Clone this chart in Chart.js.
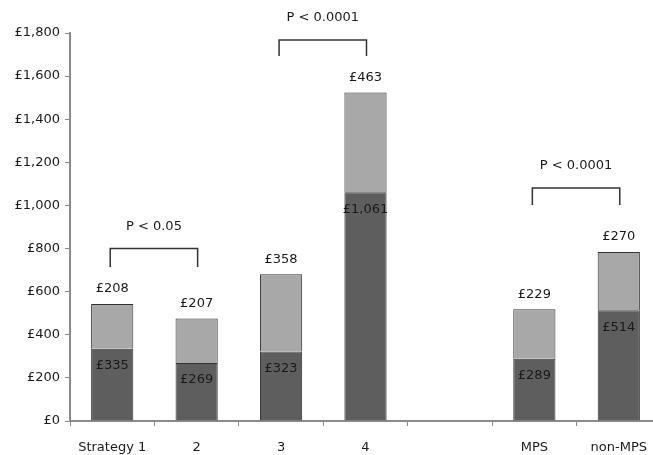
<!DOCTYPE html>
<html lang="en">
<head>
    <meta charset="UTF-8">
    <title>Cost per strategy</title>
    <script src="https://cdn.jsdelivr.net/npm/chart.js"></script>
    <style>
        html, body { margin: 0; padding: 0; background: #fff; overflow: hidden; }
    </style>
</head>
<body>
    <canvas id="costChart" width="661" height="455"></canvas>

    <script>
        // Categories and the two stacked cost parts
        const categories = ['Strategy 1', '2', '3', '4', '', 'MPS', 'non-MPS'];
        const lowerCost = [335, 269, 323, 1061, null, 289, 514];
        const upperCost = [208, 207, 358, 463, null, 229, 270];
        const yMax = 1800;
        const yStep = 200;

        // Significance brackets: from/to category index, bar top value, leg end value
        const bracketFrom = [0, 2, 5];
        const bracketTo = [1, 3, 6];
        const bracketTop = [800, 1767, 1081];
        const bracketLeg = [715, 1693, 1002];
        const bracketText = ['P < 0.05', 'P < 0.0001', 'P < 0.0001'];

        const money = v => '£' + v.toLocaleString('en-GB');
        const FONT = '"DejaVu Sans", sans-serif';

        // Writes the values on the bars and draws the P-value brackets
        const annotate = {
            id: 'annotate',
            afterDatasetsDraw(chart) {
                const ctx = chart.ctx;
                const x = chart.scales.x, y = chart.scales.y;
                ctx.save();
                ctx.font = '13px ' + FONT;
                ctx.fillStyle = '#1a1a1a';
                ctx.textAlign = 'center';
                ctx.textBaseline = 'middle';

                const low = chart.getDatasetMeta(0).data;
                const high = chart.getDatasetMeta(1).data;
                lowerCost.forEach((v, i) => {
                    if (v == null) return;
                    ctx.fillText(money(v), low[i].x, low[i].y + 17);
                });
                upperCost.forEach((v, i) => {
                    if (v == null) return;
                    ctx.fillText(money(v), high[i].x, high[i].y - 15);
                });

                ctx.strokeStyle = '#333';
                ctx.lineWidth = 1.5;
                bracketText.forEach((t, k) => {
                    const x1 = x.getPixelForValue(bracketFrom[k]) - 2;
                    const x2 = x.getPixelForValue(bracketTo[k]) + 1;
                    const yt = y.getPixelForValue(bracketTop[k]);
                    const yl = y.getPixelForValue(bracketLeg[k]);
                    ctx.beginPath();
                    ctx.moveTo(x1, yl);
                    ctx.lineTo(x1, yt);
                    ctx.lineTo(x2, yt);
                    ctx.lineTo(x2, yl);
                    ctx.stroke();
                    ctx.fillText(t, (x1 + x2) / 2, yt - 22);
                });
                ctx.restore();
            }
        };

        const ctx = document.getElementById('costChart').getContext('2d');
        new Chart(ctx, {
            type: 'bar',
            data: {
                labels: categories,
                datasets: [{
                    data: lowerCost,
                    backgroundColor: '#5e5e5e',
                    borderColor: '#333333',
                    borderWidth: 1
                }, {
                    data: upperCost,
                    backgroundColor: '#a8a8a8',
                    borderColor: '#333333',
                    borderWidth: 1
                }]
            },
            options: {
                responsive: false,
                animation: false,
                layout: { padding: { top: 33, right: 0, left: 0, bottom: 0 } },
                datasets: { bar: { categoryPercentage: 0.5, barPercentage: 1 } },
                plugins: { legend: { display: false }, tooltip: { enabled: false } },
                scales: {
                    x: {
                        stacked: true,
                        afterFit: s => { s.height = 34; },
                        border: { color: '#8a8a8a', width: 2 },
                        grid: { offset: true, drawOnChartArea: false, tickLength: 5, color: '#8a8a8a', lineWidth: 1 },
                        ticks: { color: '#1a1a1a', font: { family: FONT, size: 13 }, padding: 14 }
                    },
                    y: {
                        stacked: true,
                        min: 0,
                        max: yMax,
                        afterFit: s => { s.width = 70; },
                        border: { color: '#8a8a8a', width: 2 },
                        grid: { drawOnChartArea: false, tickLength: 5, color: '#8a8a8a' },
                        ticks: {
                            stepSize: yStep,
                            color: '#1a1a1a',
                            font: { family: FONT, size: 13 },
                            padding: 5,
                            callback: v => money(v)
                        }
                    }
                }
            },
            plugins: [annotate]
        });
    </script>
</body>
</html>
